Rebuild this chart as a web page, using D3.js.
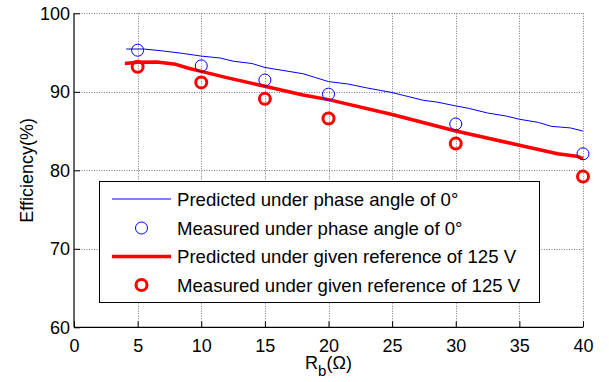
<!DOCTYPE html>
<html>
<head>
<meta charset="utf-8">
<script src="https://cdn.jsdelivr.net/npm/d3@7"></script>
<style>
  body { margin: 0; background: #fff; }
  text { font-family: "Liberation Sans", Arial, sans-serif; fill: #000; }
</style>
</head>
<body>
<svg width="609" height="382"></svg>
<script>
(function(d3) {
  'use strict';

  // Predicted efficiency, phase angle of 0 deg (thin blue line)
  const predBlueX = [4.1, 5.5, 7, 8.5, 10, 11.5, 12.5, 14, 15, 16.5, 18, 19, 20, 21.5, 23, 24,
    25, 26, 27.5, 28.5, 30, 31, 32.5, 34, 35, 36.5, 37.5, 39, 40];
  const predBlueY = [95.45, 95.45, 95.2, 94.9, 94.55, 94.3, 93.9, 93.6, 93.1, 92.7, 92.3, 91.8, 91.3,
    91.0, 90.5, 90.2, 89.9, 89.5, 88.9, 88.7, 88.2, 87.9, 87.3, 86.9, 86.5, 86.1, 85.6, 85.4, 85.0];

  // Predicted efficiency, given reference of 125 V (thick red line)
  const predRedX = [4, 5, 6.5, 8, 9, 10, 12, 15, 18, 20, 25, 30, 35, 38, 39.5, 40];
  const predRedY = [93.6, 93.75, 93.8, 93.5, 93.0, 92.6, 91.8, 90.7, 89.6, 89.0, 87.1, 85.0, 83.2,
    82.1, 81.8, 81.5];

  // Measured points
  const measX = [5, 10, 15, 20, 30, 40];
  const measBlue = [95.3, 93.3, 91.5, 89.7, 85.9, 82.1];
  const measRed = [93.2, 91.2, 89.1, 86.6, 83.4, 79.2];

  const xTicks = [0, 5, 10, 15, 20, 25, 30, 35, 40];
  const yTicks = [60, 70, 80, 90, 100];

  const legendLabels = [
    'Predicted under phase angle of 0°',
    'Measured under phase angle of 0°',
    'Predicted under given reference of 125 V',
    'Measured under given reference of 125 V',
  ];

  const svg = d3.select('svg');
  const plot = {left: 74, right: 583, top: 13.3, bottom: 327.3};

  const xScale = d3.scaleLinear().domain([0, 40]).range([plot.left, plot.right]);
  const yScale = d3.scaleLinear().domain([60, 100]).range([plot.bottom, plot.top]);

  // dotted grid
  const grid = svg.append('g')
      .attr('stroke', '#777')
      .attr('stroke-width', 1)
      .attr('stroke-dasharray', '1,1.5');
  grid.selectAll('line.gx').data(xTicks.slice(1)).enter().append('line')
      .attr('x1', (d) => Math.round(xScale(d)) + 0.5)
      .attr('x2', (d) => Math.round(xScale(d)) + 0.5)
      .attr('y1', plot.top)
      .attr('y2', plot.bottom);
  grid.selectAll('line.gy').data(yTicks.slice(1)).enter().append('line')
      .attr('y1', (d) => Math.round(yScale(d)) + 0.5)
      .attr('y2', (d) => Math.round(yScale(d)) + 0.5)
      .attr('x1', plot.left)
      .attr('x2', plot.right);

  // axes, ticks pointing inward
  const xAxis = d3.axisBottom(xScale).tickValues(xTicks).tickSize(-6).tickPadding(11.5);
  const yAxis = d3.axisLeft(yScale).tickValues(yTicks).tickSize(-6).tickPadding(4);

  const xAxisG = svg.append('g')
      .attr('transform', `translate(0,${plot.bottom})`)
      .call(xAxis);
  const yAxisG = svg.append('g')
      .attr('transform', `translate(${plot.left},0)`)
      .call(yAxis);
  [xAxisG, yAxisG].forEach(function(g) {
    g.select('.domain').attr('stroke', '#000').attr('stroke-width', 1.2);
    g.selectAll('.tick line').attr('stroke', '#000');
    g.selectAll('.tick text').attr('font-size', 18).attr('fill', '#000')
        .attr('font-family', '"Liberation Sans", Arial, sans-serif');
  });
  xAxisG.select('.domain').attr('d', `M${plot.left},0H${plot.right}`);
  yAxisG.select('.domain').attr('d', `M0,${plot.bottom}V${plot.top}`);

  // lines
  const line = d3.line()
      .x((d) => xScale(d[0]))
      .y((d) => yScale(d[1]));

  svg.append('path')
      .datum(d3.zip(predBlueX, predBlueY))
      .attr('fill', 'none')
      .attr('stroke', '#0000ff')
      .attr('stroke-width', 1)
      .attr('d', line);

  svg.append('path')
      .datum(d3.zip(predRedX, predRedY))
      .attr('fill', 'none')
      .attr('stroke', '#ff0000')
      .attr('stroke-width', 3.5)
      .attr('stroke-linejoin', 'round')
      .attr('d', line);

  // measured markers
  svg.append('g').selectAll('circle').data(d3.zip(measX, measBlue)).enter().append('circle')
      .attr('cx', (d) => xScale(d[0]))
      .attr('cy', (d) => yScale(d[1]))
      .attr('r', 6)
      .attr('fill', 'none')
      .attr('stroke', '#0000ff')
      .attr('stroke-width', 1);

  svg.append('g').selectAll('circle').data(d3.zip(measX, measRed)).enter().append('circle')
      .attr('cx', (d) => xScale(d[0]))
      .attr('cy', (d) => yScale(d[1]))
      .attr('r', 5.5)
      .attr('fill', 'none')
      .attr('stroke', '#ff0000')
      .attr('stroke-width', 3);

  // legend
  const legend = svg.append('g');
  legend.append('rect')
      .attr('x', 99.5).attr('y', 181.5)
      .attr('width', 440).attr('height', 121)
      .attr('fill', '#fff')
      .attr('stroke', '#000')
      .attr('stroke-width', 1);

  const rowY = [199, 228, 256.5, 285];
  const rows = legend.selectAll('g.row').data(legendLabels).enter().append('g')
      .attr('transform', (d, i) => `translate(0,${rowY[i]})`);
  rows.append('text')
      .attr('x', 177)
      .attr('y', 6.5)
      .attr('font-size', 18.6)
      .text((d) => d);
  rows.each(function(d, i) {
    const r = d3.select(this);
    if (i === 0 || i === 2) {
      r.append('line')
          .attr('x1', 112).attr('x2', 171)
          .attr('stroke', i === 0 ? '#0000ff' : '#ff0000')
          .attr('stroke-width', i === 0 ? 1 : 3.5);
    } else {
      r.append('circle')
          .attr('cx', 141.5).attr('r', i === 1 ? 6 : 5.5)
          .attr('fill', 'none')
          .attr('stroke', i === 1 ? '#0000ff' : '#ff0000')
          .attr('stroke-width', i === 1 ? 1 : 3);
    }
  });

  // axis titles
  svg.append('text')
      .attr('transform', `translate(33,${(plot.top + plot.bottom) / 2}) rotate(-90)`)
      .attr('text-anchor', 'middle')
      .attr('font-size', 18)
      .text('Efficiency(%)');

  const xTitle = svg.append('text')
      .attr('x', (plot.left + plot.right) / 2)
      .attr('y', 369)
      .attr('text-anchor', 'middle')
      .attr('font-size', 18);
  xTitle.append('tspan').text('R');
  xTitle.append('tspan').attr('dy', 7).attr('font-size', 15).text('b');
  xTitle.append('tspan').attr('dy', -7).text('(Ω)');
}(d3));
</script>
</body>
</html>
